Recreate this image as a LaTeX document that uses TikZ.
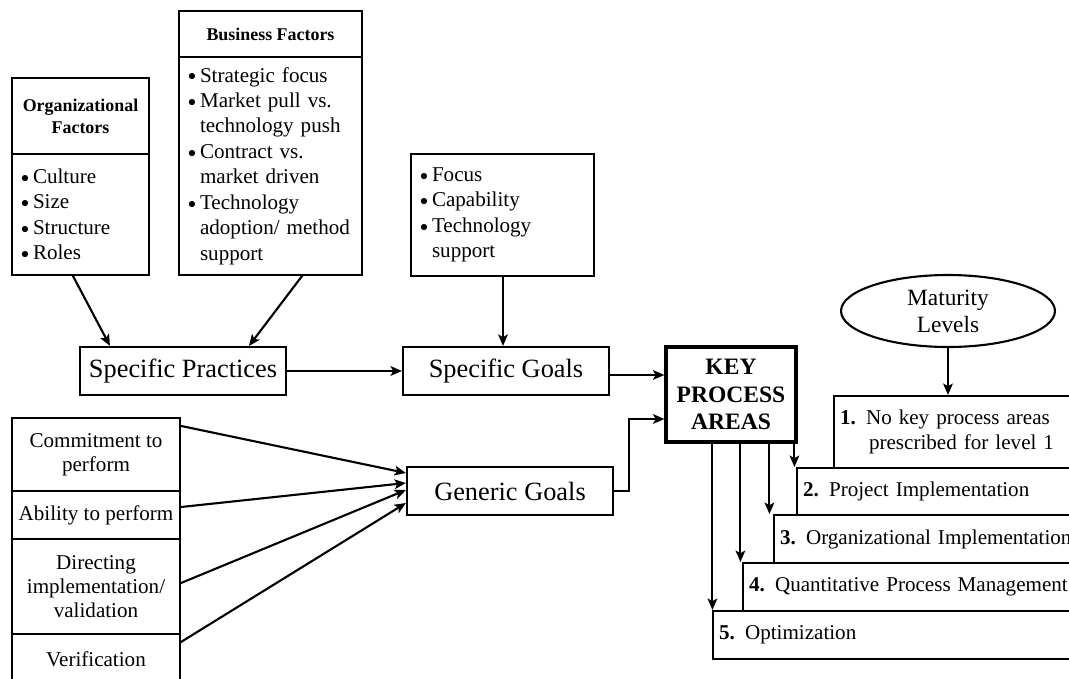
\documentclass[tikz,border=0pt]{standalone}
\usepackage{fontspec}
\setmainfont{Liberation Serif}
\usepackage{tikz}
\usetikzlibrary{calc}
\usetikzlibrary{arrows.meta}
\usetikzlibrary{shapes.geometric}
\newcommand{\bul}{\makebox[0.24cm][l]{\raisebox{0.6pt}{\scalebox{0.75}{$\bullet$}}}}
\newcommand{\ind}{\hspace*{0.24cm}}
\newcommand{\lvl}[1]{\makebox[0.52cm][l]{\textbf{#1.}}}
\tikzset{
  box/.style={draw,inner sep=0pt,align=center},
  titlebox/.style={box,font=\fontsize{10.2}{12.5}\selectfont\bfseries},
  listbox/.style={box,align=left,inner xsep=0.18cm,font=\fontsize{12}{14.5}\selectfont},
  bigbox/.style={box,minimum width=4.12cm,minimum height=0.96cm,font=\fontsize{15}{18}\selectfont},
  stackbox/.style={box,minimum width=3.36cm,font=\fontsize{12}{13.5}\selectfont},
  levelbox/.style={box,anchor=north west,align=left,inner xsep=0.12cm,font=\fontsize{12}{14.5}\selectfont}
}
\begin{document}
\begin{tikzpicture}[line cap=round,>={Stealth[length=6.5pt,width=5.5pt,inset=1.5pt]},line width=1.2pt,x=0.02cm,y=-0.02cm]
\useasboundingbox (0,0) rectangle (1069,679);
\clip (0,0) rectangle (1069,679);
\node[titlebox,minimum width=2.74cm,minimum height=1.52cm] (orgtitle) at (80.5,116) {Organizational\\Factors};
\node[listbox,text width=2.38cm,minimum height=2.42cm] (orglist) at (80.5,214.5) {\bul Culture\\\bul Size\\\bul Structure\\\bul Roles};
\node[titlebox,minimum width=3.66cm,minimum height=0.92cm] (bustitle) at (270.5,34) {Business Factors};
\node[listbox,text width=3.30cm,minimum height=4.36cm] (buslist) at (270.5,166) {\bul Strategic focus\\\bul Market pull vs.\\\ind technology push\\\bul Contract vs.\\\ind market driven\\\bul Technology\\\ind adoption/ method\\\ind support};
\node[listbox,text width=3.30cm,minimum height=2.44cm] (focus) at (502.5,215) {\bul Focus\\\bul Capability\\\bul Technology\\\ind support};
\node[bigbox] (sp) at (183,371) {Specific Practices};
\node[bigbox] (sg) at (506,371) {Specific Goals};
\node[bigbox] (gg) at (510,491) {Generic Goals};
\node[box,line width=1.8pt,minimum width=2.6cm,minimum height=1.9cm,font=\fontsize{13.4}{15.6}\selectfont\bfseries] (kpa) at (731,394.5) {KEY\\PROCESS\\AREAS};
\node[draw,ellipse,inner sep=0pt,minimum width=4.28cm,minimum height=1.44cm,align=center,font=\fontsize{13.3}{15.3}\selectfont] (mat) at (948,311) {Maturity\\Levels};
\node[stackbox,minimum height=1.46cm] (commit) at (96,454.5) {Commitment to\\perform};
\node[stackbox,minimum height=0.96cm] (abil) at (96,515) {Ability to perform};
\node[stackbox,minimum height=1.9cm] (dir) at (96,586.5) {Directing\\implementation/\\validation};
\node[stackbox,minimum height=1.0cm] (ver) at (96,659) {Verification};
\node[levelbox,text width=5.10cm,minimum width=5.34cm,minimum height=1.44cm] (lv1) at (833,395) {\lvl{1}No key process areas\\\hspace*{0.58cm}prescribed for level 1};
\node[levelbox,text width=5.84cm,minimum width=6.08cm,minimum height=0.94cm] (lv2) at (796,467) {\lvl{2}Project Implementation};
\node[levelbox,text width=6.30cm,minimum width=6.54cm,minimum height=0.96cm] (lv3) at (773,514) {\lvl{3}Organizational Implementation};
\node[levelbox,text width=6.92cm,minimum width=7.16cm,minimum height=0.96cm] (lv4) at (742,562) {\lvl{4}Quantitative Process Management};
\node[levelbox,text width=7.52cm,minimum width=7.76cm,minimum height=0.96cm] (lv5) at (712,610) {\lvl{5}Optimization};
\draw [->] ($(orglist.south)+(-7.5,0)$) -- ($(sp.north)+(-73,0)$);
\draw [->] ($(buslist.south)+(31.5,0)$) -- ($(sp.north)+(66,0)$);
\draw [->] ($(focus.south)+(0.5,0)$) coordinate (fs) -- (fs |- sg.north);
\draw [->] (sp.east) -- (sg.west);
\draw [->] ($(sg.east)+(0,4)$) -- ($(kpa.west)+(0,-19.5)$);
\draw [->] (gg.east) -- ++(15,0) |- ($(kpa.west)+(0,24.5)$);
\draw [->] ($(commit.north east)+(0,9)$) -- ($(gg.west)+(0,-18)$);
\draw [->] ($(abil.east)+(0,-8)$) -- ($(gg.west)+(0,-8)$);
\draw [->] ($(dir.east)+(0,-3.5)$) -- ($(gg.west)+(0,-1)$);
\draw [->] ($(ver.north east)+(0,9)$) -- ($(gg.west)+(0,12)$);
\draw [->] (mat.south) -- (mat.south |- lv1.north);
\foreach \dx/\lv in {48/lv5,76/lv4,105/lv3,130/lv2}
  \draw [->] ($(kpa.south west)+(\dx,0)$) coordinate (kp) -- (kp |- \lv.north);
\end{tikzpicture}
\end{document}
